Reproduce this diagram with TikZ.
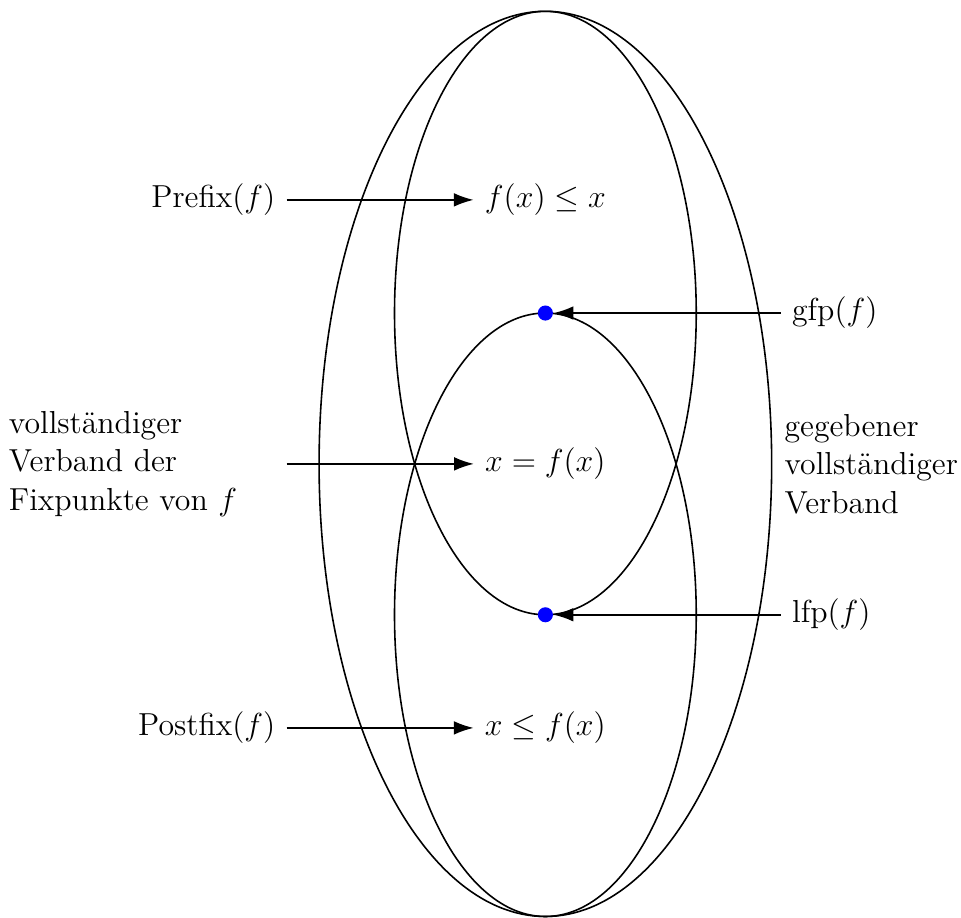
\documentclass[tikz,border=0pt,12pt]{standalone}
\usetikzlibrary{arrows.meta}
\begin{document}
\begin{tikzpicture}[
  line width=0.6pt,
  arr/.style={-{Latex[length=2.6mm,width=1.8mm]}},
  fixdot/.style={circle,fill=blue,inner sep=0pt,minimum size=0.2cm}
]
\useasboundingbox (-7.23,-6.01) rectangle (5.51,6.15);
\draw (0,0) ellipse (3 and 6);
\draw (0,2) ellipse (2 and 4);
\draw (0,-2) ellipse (2 and 4);
\node[fixdot] (gfpdot) at (0,2) {};
\node[fixdot] (lfpdot) at (0,-2) {};
\node (fle) at (0,3.5) {$f(x)\leq x$};
\node (feq) at (0,0) {$x=f(x)$};
\node (fge) at (0,-3.5) {$x\leq f(x)$};
\node[anchor=east] (prefix) at (-3.43,3.5) {Prefix$(f)$};
\node[anchor=east] (postfix) at (-3.43,-3.5) {Postfix$(f)$};
\node[anchor=east,text width=3.53cm,align=left] (fix) at (-3.43,0) {vollständiger\\Verband der\\Fixpunkte von $f$};
\node[anchor=west] (gfp) at (3.12,2) {gfp$(f)$};
\node[anchor=west] (lfp) at (3.12,-2) {lfp$(f)$};
\node[anchor=west,align=left] (given) at (3.02,0) {gegebener\\vollständiger\\Verband};
\draw[arr] (prefix.east) -- (fle.west);
\draw[arr] (postfix.east) -- (fge.west);
\draw[arr] (fix.east) -- (feq.west);
\draw[arr] (gfp.west) -- (gfpdot);
\draw[arr] (lfp.west) -- (lfpdot);
\end{tikzpicture}
\end{document}
